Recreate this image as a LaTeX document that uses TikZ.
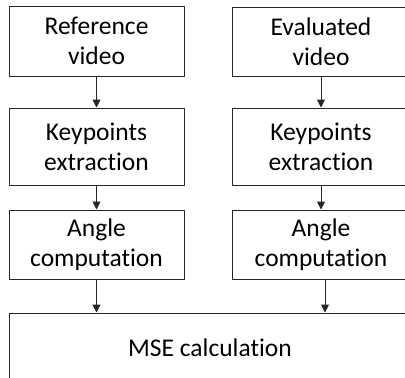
\documentclass[tikz,border=0pt]{standalone}
\usepackage{fontspec}
\setmainfont[Ligatures=NoCommon]{Carlito}
\usetikzlibrary{positioning,arrows.meta}

\begin{document}
\begin{tikzpicture}[x=1pt, y=-1pt, line cap=round, line join=round]
  % styles
  \tikzset{
    stage/.style={draw=black!85, line width=1pt, align=center, inner sep=0pt,
      font=\fontsize{25.5}{30}\selectfont},
    flow/.style={draw=black!85, line width=1pt, -{Triangle[length=8pt,width=8pt]}}
  }

  % ----- frame (boxes run past the right and bottom edge) -----
  \clip (0,0) rectangle (405,378);

  % ----- left column -----
  \node[stage, minimum width=175pt, minimum height=70pt] (refvid) at (96.5,41) {Reference\\video};
  \node[stage, minimum width=175pt, minimum height=77pt] (refkp)  at (96.5,146.5) {Keypoints\\extraction};
  \node[stage, minimum width=175pt, minimum height=69pt] (refang) at (96.5,244.5) {Angle\\computation};

  % ----- right column -----
  \node[stage, minimum width=178pt, minimum height=69pt] (evavid) at (321,41.5) {Evaluated\\video};
  \node[stage, minimum width=178pt, minimum height=77pt] (evakp)  at (321,146.5) {Keypoints\\extraction};
  \node[stage, minimum width=178pt, minimum height=69pt] (evaang) at (321,244.5) {Angle\\computation};

  % ----- merge -----
  \node[stage, minimum width=402pt, minimum height=70pt] (mse) at (210,348) {MSE calculation};

  % arrows
  \draw[flow] (refvid) -- (refkp);
  \draw[flow] (refkp) -- (refang);
  \draw[flow] (evavid) -- (evakp);
  \draw[flow] (evakp) -- (evaang);
  \draw[flow] (refang) -- (refang |- mse.north);
  \draw[flow] ([xshift=4pt]evaang.south) -- ([xshift=4pt]evaang.south |- mse.north);
\end{tikzpicture}
\end{document}
